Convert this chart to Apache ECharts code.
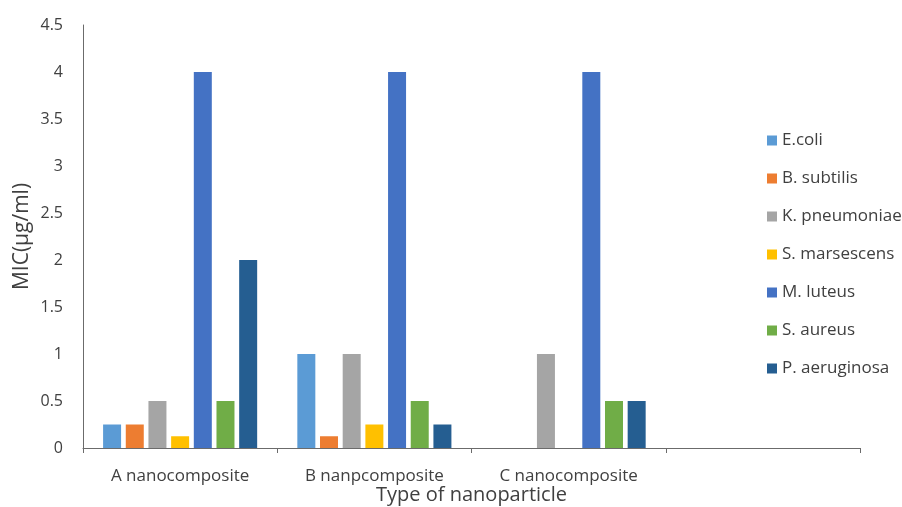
<!DOCTYPE html>
<html>
<head>
<meta charset="utf-8">
<script src="https://cdn.jsdelivr.net/npm/echarts@6/dist/echarts.min.js"></script>
<style>html,body{margin:0;padding:0;background:#fff}#c{width:902px;height:507px}</style>
</head>
<body>
<div id="c"></div>
<script>
const categories = ['A nanocomposite', 'B nanpcomposite', 'C nanocomposite', ''];
const seriesNames = ['E.coli', 'B. subtilis', 'K. pneumoniae', 'S. marsescens', 'M. luteus', 'S. aureus', 'P. aeruginosa'];
const eColi = [0.25, 1, 0, null];
const bSubtilis = [0.25, 0.125, 0, null];
const kPneumoniae = [0.5, 1, 1, null];
const sMarsescens = [0.125, 0.25, 0, null];
const mLuteus = [4, 4, 4, null];
const sAureus = [0.5, 0.5, 0.5, null];
const pAeruginosa = [2, 0.25, 0.5, null];
const yTicks = [0, 0.5, 1, 1.5, 2, 2.5, 3, 3.5, 4, 4.5];
const colors = ['#5B9BD5', '#ED7D31', '#A5A5A5', '#FFC000', '#4472C4', '#70AD47', '#255E91'];

const allData = [eColi, bSubtilis, kPneumoniae, sMarsescens, mLuteus, sAureus, pAeruginosa];
const font = 'Open Sans';
const chart = echarts.init(document.getElementById('c'));
chart.setOption({
  animation: false,
  textStyle: { fontFamily: font },
  grid: { left: 83, right: 42, top: 25, bottom: 59, containLabel: false, outerBoundsMode: 'none' },
  legend: {
    orient: 'vertical',
    left: 762,
    top: 127,
    itemWidth: 10,
    itemHeight: 10,
    itemGap: 21,
    icon: 'rect',
    textStyle: { fontSize: 17, color: '#404040', fontFamily: font, lineHeight: 17 },
    data: seriesNames
  },
  xAxis: {
    type: 'category',
    data: categories,
    name: 'Type of nanoparticle',
    nameLocation: 'middle',
    nameGap: 37,
    nameMoveOverlap: false,
    nameTextStyle: { fontSize: 20, color: '#404040', fontFamily: font },
    axisLine: { lineStyle: { color: '#6b6b6b', width: 1 } },
    axisTick: { show: true, length: 5, lineStyle: { color: '#6b6b6b' } },
    axisLabel: { fontSize: 17, color: '#404040', margin: 20, fontFamily: font },
    splitLine: { show: false }
  },
  yAxis: {
    type: 'value',
    min: yTicks[0],
    max: yTicks[yTicks.length - 1],
    interval: 0.5,
    name: 'MIC(μg/ml)',
    nameLocation: 'middle',
    nameGap: 50,
    nameMoveOverlap: false,
    nameTextStyle: { fontSize: 21, color: '#404040', fontFamily: font },
    axisLine: { show: true, lineStyle: { color: '#6b6b6b', width: 1 } },
    axisTick: { show: false },
    axisLabel: { fontSize: 16, color: '#404040', margin: 20, fontFamily: font },
    splitLine: { show: false }
  },
  series: seriesNames.map((n, i) => ({
    name: n,
    type: 'bar',
    data: allData[i],
    barWidth: 18,
    barGap: '26%',
    itemStyle: { color: colors[i] }
  }))
});
</script>
</body>
</html>
